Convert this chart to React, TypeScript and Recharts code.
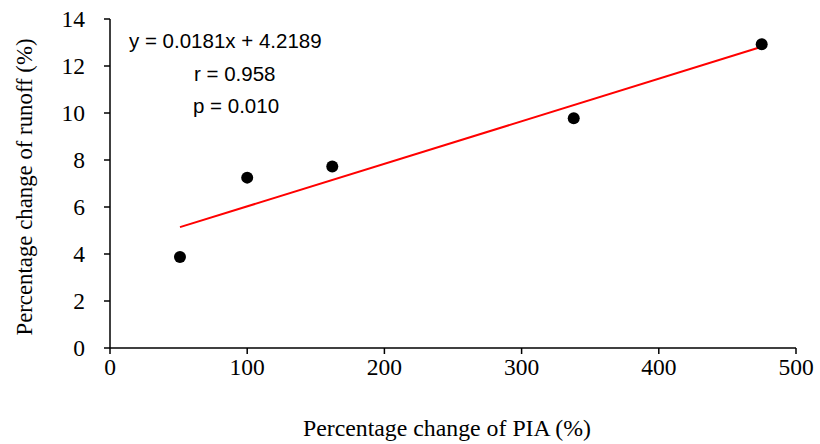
import React from "react";
import {
  ScatterChart,
  Scatter,
  XAxis,
  YAxis,
  ReferenceLine,
  Customized,
} from "recharts";

const piaChange = [51, 100, 162, 338, 475];
const runoffChange = [3.87, 7.25, 7.72, 9.78, 12.93];
const xTicks = [0, 100, 200, 300, 400, 500];
const yTicks = [0, 2, 4, 6, 8, 10, 12, 14];
const slope = 0.0181;
const intercept = 4.2189;
const equationLines = ["y = 0.0181x + 4.2189", "r = 0.958", "p = 0.010"];

const points = piaChange.map((x, i) => ({ x, y: runoffChange[i] }));
const xMin = Math.min(...piaChange);
const xMax = Math.max(...piaChange);
const trendSegment = [
  { x: xMin, y: slope * xMin + intercept },
  { x: xMax, y: slope * xMax + intercept },
];

const serif = "Liberation Serif";
const sans = "Liberation Sans";

const XTick = (props: any) => {
  const { x, y, payload } = props;
  return (
    <text
      x={x}
      y={y}
      dy={17}
      textAnchor="middle"
      fontFamily={serif}
      fontSize={23.5}
      fill="#000"
    >
      {payload.value}
    </text>
  );
};

const YTick = (props: any) => {
  const { x, y, payload } = props;
  return (
    <text
      x={x}
      y={y}
      dy={8}
      textAnchor="end"
      fontFamily={serif}
      fontSize={23.5}
      fill="#000"
    >
      {payload.value}
    </text>
  );
};

const Annotations = () => (
  <g>
    <text x={129} y={48} fontFamily={sans} fontSize={20.5} fill="#000">
      {equationLines[0]}
    </text>
    <text x={194} y={81} fontFamily={sans} fontSize={20.5} fill="#000">
      {equationLines[1]}
    </text>
    <text x={193} y={113} fontFamily={sans} fontSize={20.5} fill="#000">
      {equationLines[2]}
    </text>
    <text
      x={447}
      y={436}
      textAnchor="middle"
      fontFamily={serif}
      fontSize={23.8}
      fill="#000"
    >
      Percentage change of PIA (%)
    </text>
    <text
      x={32}
      y={187}
      textAnchor="middle"
      transform="rotate(-90 32 187)"
      fontFamily={serif}
      fontSize={22.8}
      fill="#000"
    >
      Percentage change of runoff (%)
    </text>
  </g>
);

export default function App() {
  return (
    <div style={{ position: "absolute", left: 0, top: 0, background: "#fff" }}>
      <ScatterChart
        width={820}
        height={444}
        margin={{ top: 19, right: 24, bottom: 36, left: 0 }}
      >
        <XAxis
          type="number"
          dataKey="x"
          domain={[0, 500]}
          ticks={xTicks}
          height={60}
          tickSize={6}
          tickMargin={4}
          tick={<XTick />}
          axisLine={{ stroke: "#000", strokeWidth: 1.5 }}
          tickLine={{ stroke: "#000", strokeWidth: 1.5 }}
        />
        <YAxis
          type="number"
          dataKey="y"
          domain={[0, 14]}
          ticks={yTicks}
          width={110}
          tickSize={6}
          tickMargin={19}
          tick={<YTick />}
          axisLine={{ stroke: "#000", strokeWidth: 1.5 }}
          tickLine={{ stroke: "#000", strokeWidth: 1.5 }}
        />
        <ReferenceLine
          segment={trendSegment}
          stroke="#ff0000"
          strokeWidth={2}
          ifOverflow="visible"
        />
        <Scatter
          data={points}
          fill="#000"
          isAnimationActive={false}
          shape={(props: any) => (
            <circle cx={props.cx} cy={props.cy} r={6} fill="#000" />
          )}
        />
        <Customized component={Annotations} />
      </ScatterChart>
    </div>
  );
}
